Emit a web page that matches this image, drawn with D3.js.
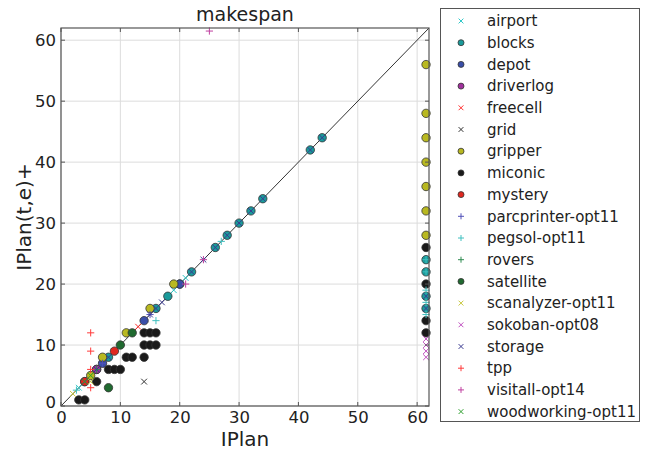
<!DOCTYPE html>
<html><head><meta charset="utf-8">
<script src="https://cdn.jsdelivr.net/npm/d3@7"></script>
<style>body{margin:0;background:#fff}text{font-family:"DejaVu Sans",sans-serif;fill:#222}</style>
</head><body><svg id="c" width="646" height="450"></svg>
<script>
const R = 61.5; // right column value (timeouts)
const categories = ["airport","blocks","depot","driverlog","freecell","grid","gripper","miconic","mystery","parcprinter-opt11","pegsol-opt11","rovers","satellite","scanalyzer-opt11","sokoban-opt08","storage","tpp","visitall-opt14","woodworking-opt11"];
const shapes = ["x","o","o","o","x","x","o","o","o","+","+","+","o","x","x","x","+","+","x"];
const colors = ["#30c8c8","#1a9a9a","#3a4ea8","#a0309c","#ff3030","#333333","#b8b820","#1a1a1a","#e02820","#5050b8","#40c0c0","#2e8b50","#206a30","#c8c840","#c050c0","#3a3a90","#ff3a3a","#c040a0","#30a030"];
const airport = [[3,3],[19,19],[21,21]];
const blocks = [[4,4],[6,6],[8,8],[16,16],[18,18],[20,20],[22,22],[26,26],[28,28],[30,30],[32,32],[34,34],[42,42],[44,44],[R,24],[R,22],[R,18],[R,16]];
const depot = [[14,14],[7,7],[20,20]];
const driverlog = [[6,6]];
const freecell = [[13,13],[9,9]];
const grid = [[14,4]];
const gripper = [[5,5],[7,8],[11,12],[15,16],[19,20],[R,56],[R,48],[R,44],[R,40],[R,36],[R,32],[R,28]];
const miconic = [[3,1],[4,1],[6,4],[8,6],[9,6],[10,6],[11,8],[12,8],[14,8],[14,10],[15,10],[16,10],[14,12],[15,12],[16,12],[R,26],[R,20],[R,14],[R,12]];
const mystery = [[9,9],[4,4]];
const parcprinter = [[12,12],[15,15],[7,7]];
const pegsol = [[16,14],[27,27],[2.6,2.6],[R,24],[R,22],[R,19],[R,17],[R,15]];
const rovers = [[10,10],[6,6]];
const satellite = [[8,3],[12,12],[10,10]];
const scanalyzer = [[2,2],[5,4]];
const sokoban = [[R,11],[R,10],[R,9],[R,8]];
const storage = [[4,4],[6,6],[8,8],[16,16],[17,17],[15,15],[22,22],[24,24],[26,26],[28,28],[30,30],[32,32],[34,34],[42,42],[44,44],[R,18],[R,16]];
const tpp = [[5,12],[5,9],[5,6],[5,3]];
const visitall = [[21,20],[24,24],[25,61.5]];
const woodworking = [[4,4],[5,5]];
const series = [airport,blocks,depot,driverlog,freecell,grid,gripper,miconic,mystery,parcprinter,pegsol,rovers,satellite,scanalyzer,sokoban,storage,tpp,visitall,woodworking];
const ticks = [0,10,20,30,40,50,60];

const svg = d3.select("#c");
const L=61,T=28,W=368,H=378;
const x = d3.scaleLinear().domain([0,62]).range([L,L+W]);
const y = d3.scaleLinear().domain([0,62]).range([T+H,T]);

const g = svg.append("g");
ticks.forEach(t=>{
  g.append("line").attr("x1",x(t)).attr("x2",x(t)).attr("y1",T).attr("y2",T+H).attr("stroke","#dcdcdc");
  g.append("line").attr("y1",y(t)).attr("y2",y(t)).attr("x1",L).attr("x2",L+W).attr("stroke","#dcdcdc");
});
svg.append("line").attr("x1",x(0)).attr("y1",y(0)).attr("x2",x(62)).attr("y2",y(62)).attr("stroke","#333").attr("stroke-width",1);

function marker(sel, shape, color, cx, cy, s){
  if(shape==="o"){
    sel.append("circle").attr("cx",cx).attr("cy",cy).attr("r",s).attr("fill",color).attr("stroke","#333").attr("stroke-width",0.8);
  } else if(shape==="x"){
    const d=s*0.8;
    sel.append("path").attr("d",`M${cx-d},${cy-d}L${cx+d},${cy+d}M${cx-d},${cy+d}L${cx+d},${cy-d}`).attr("stroke",color).attr("stroke-width",1).attr("fill","none");
  } else {
    const d=s;
    sel.append("path").attr("d",`M${cx-d},${cy}L${cx+d},${cy}M${cx},${cy-d}L${cx},${cy+d}`).attr("stroke",color).attr("stroke-width",1).attr("fill","none");
  }
}
const pts = svg.append("g");
series.forEach((s,i)=>{
  s.forEach(p=>marker(pts,shapes[i],colors[i],x(p[0]),y(p[1]),shapes[i]==="o"?4.2:3.6));
});

svg.append("rect").attr("x",L).attr("y",T).attr("width",W).attr("height",H).attr("fill","none").attr("stroke","#555").attr("stroke-width",1.2);
ticks.forEach(t=>{
  svg.append("line").attr("x1",x(t)).attr("x2",x(t)).attr("y1",T+H).attr("y2",T+H-4).attr("stroke","#555");
  svg.append("line").attr("x1",x(t)).attr("x2",x(t)).attr("y1",T).attr("y2",T+4).attr("stroke","#555");
  svg.append("line").attr("y1",y(t)).attr("y2",y(t)).attr("x1",L).attr("x2",L+4).attr("stroke","#555");
  svg.append("line").attr("y1",y(t)).attr("y2",y(t)).attr("x1",L+W).attr("x2",L+W-4).attr("stroke","#555");
});
const xa = svg.append("g").attr("transform",`translate(0,${T+H})`).call(d3.axisBottom(x).tickValues(ticks).tickSize(0).tickPadding(5));
const ya = svg.append("g").attr("transform",`translate(${L},0)`).call(d3.axisLeft(y).tickValues(ticks).tickSize(0).tickPadding(5));
[xa,ya].forEach(a=>{a.select(".domain").remove();a.selectAll("text").attr("font-size",16.5).attr("font-family","DejaVu Sans").attr("fill","#222");});
ya.selectAll(".tick").filter(d=>d===0).select("text").attr("dy","0.1em");

svg.append("text").attr("x",L+W/2).attr("y",21).attr("text-anchor","middle").attr("font-size",19).text("makespan");
svg.append("text").attr("x",L+W/2).attr("y",446).attr("text-anchor","middle").attr("font-size",20).text("IPlan");
svg.append("text").attr("transform",`translate(31,${T+H/2}) rotate(-90)`).attr("text-anchor","middle").attr("font-size",20).text("IPlan(t,e)+");

const lg = svg.append("g");
lg.append("rect").attr("x",440.5).attr("y",8.5).attr("width",199).attr("height",413).attr("fill","#fff").attr("stroke","#555").attr("stroke-width",1);
categories.forEach((c,i)=>{
  const yy = 21 + i*21.7;
  marker(lg,shapes[i],colors[i],461,yy,3);
  lg.append("text").attr("x",487).attr("y",yy).attr("dy","0.35em").attr("font-size",15).text(c);
});
</script></body></html>
